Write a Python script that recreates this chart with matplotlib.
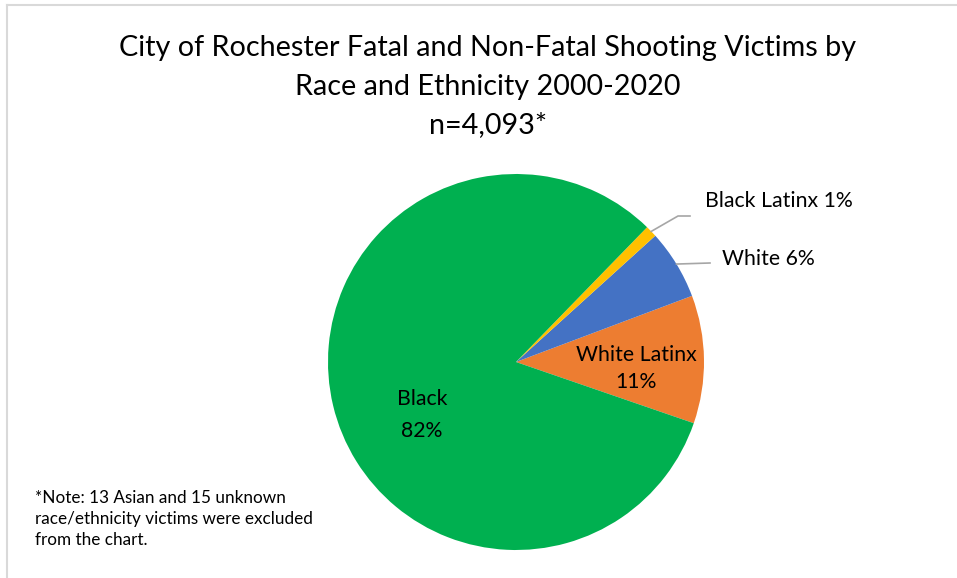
import numpy as np
import matplotlib
matplotlib.use("Agg")
import matplotlib.pyplot as plt
from matplotlib.lines import Line2D

categories = ["White Latinx", "White", "Black Latinx", "Black"]
percents = [11, 6, 1, 82]
colors = ["#ED7D31", "#4472C4", "#FFC000", "#00B050"]

title_lines = ["City of Rochester Fatal and Non-Fatal Shooting Victims by",
               "Race and Ethnicity 2000-2020", "n=4,093*"]
note = "*Note: 13 Asian and 15 unknown\nrace/ethnicity victims were excluded\nfrom the chart."

plt.rcParams['font.family'] = ['Lato', 'DejaVu Sans']

W, H = 957, 578
fig = plt.figure(figsize=(W / 100, H / 100), dpi=100)

# Frame lines (cropped chart border)
fig.add_artist(Line2D([7 / W, 1], [1 - 5 / H, 1 - 5 / H], color="#d9d9d9", lw=1.5))
fig.add_artist(Line2D([7 / W, 7 / W], [0, 1 - 5 / H], color="#d9d9d9", lw=1.5))

cx, cy, r = 516, 362, 188
ax = fig.add_axes([(cx - r) / W, 1 - (cy + r) / H, 2 * r / W, 2 * r / H])
wedges, _ = ax.pie(percents, colors=colors, startangle=-19, counterclock=True,
                   wedgeprops=dict(linewidth=0))
ax.set_xlim(-1, 1)
ax.set_ylim(-1, 1)
ax.set_aspect('auto')

fs_title = 20.7
tx = 488 / W
fig.text(tx, 1 - 48 / H, title_lines[0], ha='center', va='center', fontsize=fs_title)
fig.text(tx, 1 - 87 / H, title_lines[1], ha='center', va='center', fontsize=fs_title)
fig.text(tx, 1 - 125 / H, title_lines[2], ha='center', va='center', fontsize=fs_title)

def mid(w):
    return np.deg2rad((w.theta1 + w.theta2) / 2)

fs_lab = 15.3
# Inside labels
fig.text(422 / W, 1 - 399 / H, categories[3], ha='center', va='center', fontsize=fs_lab)
fig.text(422 / W, 1 - 431 / H, f"{percents[3]}%", ha='center', va='center', fontsize=fs_lab)
fig.text(636 / W, 1 - 355 / H, categories[0], ha='center', va='center', fontsize=fs_lab)
fig.text(636 / W, 1 - 382 / H, f"{percents[0]}%", ha='center', va='center', fontsize=fs_lab)

# Outside labels with leader lines
a = mid(wedges[2])
p = (np.cos(a), np.sin(a))
ax.plot([p[0], (678 - cx) / r, (690 - cx) / r], [p[1], (cy - 216) / r, (cy - 216) / r],
        color="#a6a6a6", lw=1.2, clip_on=False)
fig.text(705 / W, 1 - 201 / H, f"{categories[2]} {percents[2]}%", ha='left', va='center', fontsize=fs_lab)

a = mid(wedges[1])
p = (np.cos(a), np.sin(a))
ax.plot([p[0], (710 - cx) / r], [p[1], (cy - 263) / r],
        color="#a6a6a6", lw=1.2, clip_on=False)
fig.text(722 / W, 1 - 259 / H, f"{categories[1]} {percents[1]}%", ha='left', va='center', fontsize=fs_lab)

fig.text(35 / W, 1 - 519 / H, note, ha='left', va='center', fontsize=12.3, linespacing=1.36)

fig.savefig("out.png", dpi=100)
